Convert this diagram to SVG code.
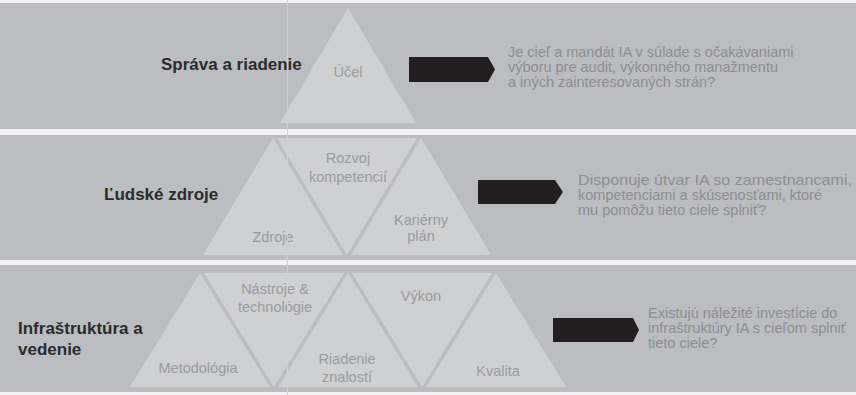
<svg xmlns="http://www.w3.org/2000/svg" width="856" height="395" viewBox="0 0 856 395">
<style>
text{font-family:"Liberation Sans",Arial,Helvetica,sans-serif}
.band{fill:#bcbdc0}
.tri{fill:#cfd0d2}
.title{font-size:17px;font-weight:bold;fill:#2b2b2b}
.lbl{font-size:14.5px;fill:#9a9b9e;text-anchor:middle}
.q{font-size:14.5px;fill:#8d8e91}
.arrow{fill:#231f20}
</style>
<rect x="0" y="0" width="856" height="395" fill="#f2f2f2"/>
<g id="band-sprava">
<rect class="band" x="0" y="3" width="856" height="126"/>
<text class="title" x="161" y="70">Správa a riadenie</text>
<polygon class="tri" points="348,8 280,123 416,123"/>
<text class="lbl" x="348" y="77">Účel</text>
<text class="q"><tspan x="508" y="57">Je cieľ a mandát IA v súlade s očakávaniami</tspan><tspan x="508" y="72">výboru pre audit, výkonného manažmentu</tspan><tspan x="508" y="87">a iných zainteresovaných strán?</tspan></text>
</g>
<g id="band-ludske">
<rect class="band" x="0" y="135" width="856" height="125"/>
<text class="title" x="104" y="200">Ľudské zdroje</text>
<polygon class="tri" points="273,138 203,255 343,255"/>
<polygon class="tri" points="277,138 417,138 347,255"/>
<polygon class="tri" points="421,138 351,255 491,255"/>
<text class="lbl" x="348" y="163">Rozvoj</text>
<text class="lbl" x="348" y="182">kompetencií</text>
<text class="lbl" x="273" y="242">Zdroje</text>
<text class="lbl" x="421" y="225">Kariérny</text>
<text class="lbl" x="421" y="241">plán</text>
<text class="q"><tspan x="578" y="185" textLength="274" lengthAdjust="spacingAndGlyphs">Disponuje útvar IA so zamestnancami,</tspan><tspan x="578" y="200">kompetenciami a skúsenosťami, ktoré</tspan><tspan x="578" y="215">mu pomôžu tieto ciele splniť?</tspan></text>
</g>
<g id="band-infra">
<rect class="band" x="0" y="265" width="856" height="127"/>
<text class="title"><tspan x="18" y="334">Infraštruktúra a</tspan><tspan x="18" y="355">vedenie</tspan></text>
<polygon class="tri" points="200,273 130,387 270,387"/>
<polygon class="tri" points="204,273 344,273 274,387"/>
<polygon class="tri" points="348,273 278,387 418,387"/>
<polygon class="tri" points="352,273 492,273 422,387"/>
<polygon class="tri" points="496,273 426,387 566,387"/>
<text class="lbl" x="275" y="294">Nástroje &amp;</text>
<text class="lbl" x="275" y="312">technológie</text>
<text class="lbl" x="421" y="301">Výkon</text>
<text class="lbl" x="198" y="373">Metodológia</text>
<text class="lbl" x="347" y="364">Riadenie</text>
<text class="lbl" x="347" y="382">znalostí</text>
<text class="lbl" x="498" y="376">Kvalita</text>
<text class="q"><tspan x="648" y="318">Existujú náležité investície do</tspan><tspan x="648" y="333">infraštruktúry IA s cieľom splniť</tspan><tspan x="648" y="348">tieto ciele?</tspan></text>
</g>
<g id="connectors">
<polygon class="arrow" points="409,57 488,57 495,69.5 488,82 409,82"/>
<polygon class="arrow" points="478,180 555,180 563,192 555,204 478,204"/>
<polygon class="arrow" points="553,318 633,318 639,330 633,342 553,342"/>
</g>
<line x1="287.5" y1="0" x2="287.5" y2="395" stroke="#cfd0d2" stroke-width="1"/>
</svg>
